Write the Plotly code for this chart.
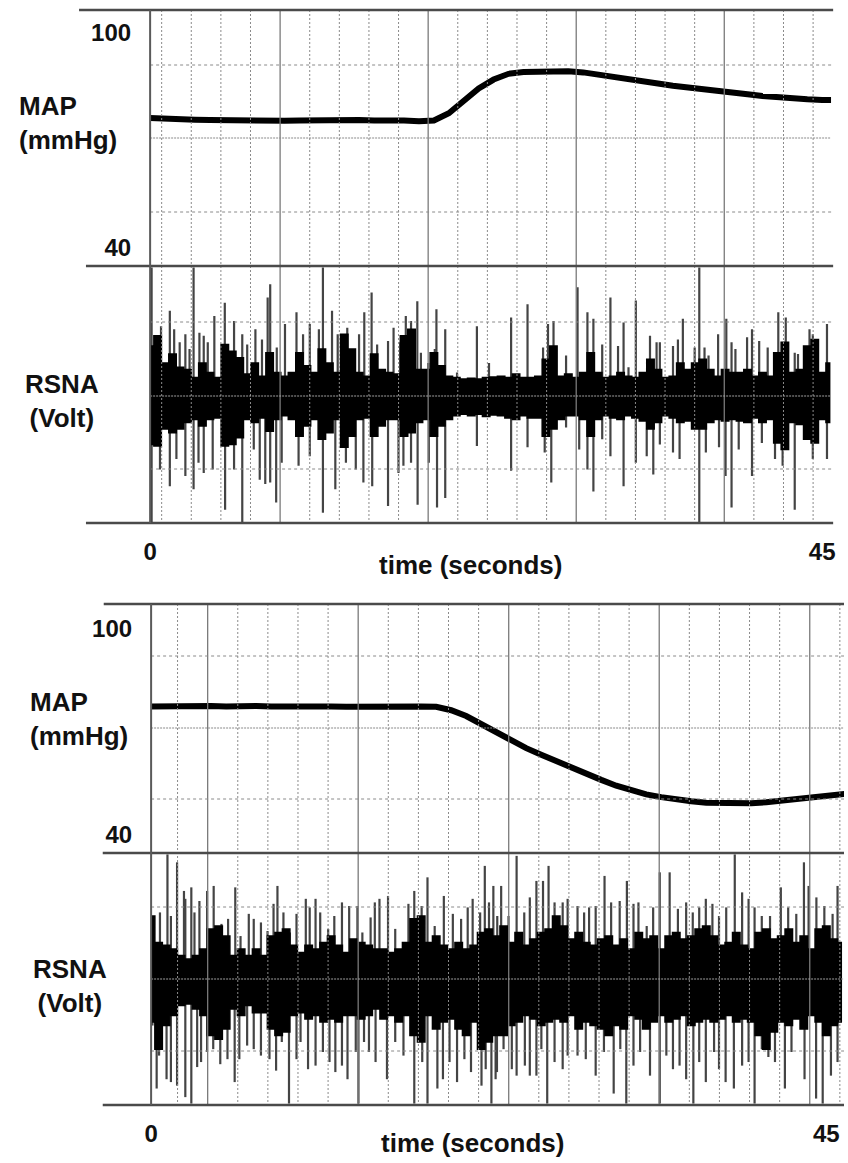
import plotly.graph_objects as go

W, H = 848, 1163
FONT = "Liberation Sans, Arial, Helvetica, sans-serif"

# ---------------- tick labels ----------------
time_ticks = [0, 45]
time_tick_text = ["0", "45"]
map_ticks = [40, 100]
map_tick_text = ["40", "100"]

# ---------------- Panel A (pressure rise) ----------------
map1_t = list(range(0, 46)) + [45.6]
map1_v = [76.3, 76.0, 75.9, 75.8, 75.7, 75.6, 75.6, 75.5, 75.6, 75.5,
          75.6, 75.7, 75.6, 75.8, 75.7, 75.6, 75.7, 75.6, 75.4, 75.6,
          77.6, 81.3, 84.5, 87.0, 88.6, 89.1, 89.3, 89.4, 89.3, 89.0,
          88.3, 87.9, 87.2, 86.6, 85.9, 85.3, 84.9, 84.4, 83.8, 83.3,
          82.9, 82.4, 82.0, 81.8, 81.5, 81.3, 81.3]

rsna1_core_t = [0.5 * i for i in range(92)]
rsna1_core_hi = [0.68, 0.82, 0.45, 0.57, 0.39, 0.36, 0.25, 0.45, 0.32, 0.25,
                 0.70, 0.61, 0.52, 0.30, 0.45, 0.27, 0.59, 0.32, 0.27, 0.32,
                 0.59, 0.41, 0.32, 0.64, 0.45, 0.32, 0.84, 0.64, 0.32, 0.27,
                 0.57, 0.36, 0.32, 0.30, 0.82, 0.91, 0.36, 0.36, 0.59, 0.41,
                 0.27, 0.25, 0.23, 0.24, 0.23, 0.25, 0.26,
                 0.27, 0.25, 0.30, 0.25, 0.25, 0.27, 0.50, 0.68, 0.27, 0.30,
                 0.25, 0.32, 0.59, 0.32, 0.25, 0.27, 0.32, 0.27, 0.25, 0.32,
                 0.50, 0.36, 0.25, 0.27, 0.45, 0.36, 0.45, 0.50, 0.36, 0.27,
                 0.36, 0.32, 0.32, 0.36, 0.27, 0.32, 0.27, 0.59, 0.73, 0.32,
                 0.36, 0.68, 0.77, 0.32, 0.45]
rsna1_core_lo = [-0.66, -0.68, -0.45, -0.50, -0.45, -0.36, -0.32, -0.41, -0.32, -0.30,
                 -0.68, -0.66, -0.57, -0.32, -0.36, -0.30, -0.48, -0.32, -0.27, -0.32,
                 -0.55, -0.41, -0.32, -0.59, -0.50, -0.32, -0.70, -0.55, -0.32, -0.30,
                 -0.55, -0.41, -0.32, -0.32, -0.55, -0.50, -0.36, -0.32, -0.55, -0.41,
                 -0.32, -0.27, -0.25, -0.27, -0.25, -0.28, -0.26,
                 -0.27, -0.30, -0.32, -0.27, -0.30, -0.30, -0.55, -0.45, -0.32, -0.27,
                 -0.27, -0.32, -0.55, -0.32, -0.27, -0.30, -0.32, -0.27, -0.30, -0.34,
                 -0.45, -0.36, -0.27, -0.30, -0.36, -0.34, -0.45, -0.45, -0.36, -0.32,
                 -0.34, -0.32, -0.34, -0.36, -0.30, -0.36, -0.32, -0.64, -0.73, -0.36,
                 -0.39, -0.59, -0.64, -0.32, -0.36]

rsna1_up_t = [0.10, 0.73, 1.32, 1.61, 1.98, 2.36, 2.64, 2.91, 3.30, 3.59, 3.86, 4.30,
              5.00, 5.62, 6.17, 6.50, 7.05, 7.49, 7.87, 8.04, 8.48, 9.03, 9.80, 10.24,
              10.69, 11.30, 11.57, 12.18, 12.56, 13.20, 13.99, 14.34, 14.83, 15.20, 15.93,
              16.30, 16.75, 17.12, 17.47, 17.89, 18.13, 18.62, 19.06, 19.17, 19.76, 20.55,
              21.88, 22.69,
              24.17, 25.27, 26.31, 26.64, 27.01, 27.85, 28.62, 29.28, 29.68, 30.27, 30.82,
              31.33, 31.70, 32.03, 32.52, 33.47, 33.91, 34.13, 35.01, 35.34, 35.67, 36.46,
              36.77, 37.12, 37.39, 38.03, 38.58, 38.93, 39.19, 39.97, 40.30, 40.78, 41.35,
              42.06, 42.56, 43.16, 43.38, 44.15, 44.37, 45.32]
rsna1_up_v = [1.75, 0.95, 1.16, 0.91, 0.73, 0.84, 0.64, 1.75, 0.86, 0.82, 0.73, 1.09,
              1.27, 1.02, 0.84, 0.70, 0.91, 0.77, 1.34, 1.52, 0.66, 0.98, 1.14, 0.84,
              0.98, 0.91, 1.75, 1.16, 0.84, 0.93, 0.84, 1.14, 1.41, 0.70, 0.75,
              0.93, 0.73, 1.09, 1.02, 1.29, 0.59, 0.45, 0.64, 1.18, 0.91, 0.32,
              0.95, 0.45,
              1.07, 1.25, 0.66, 0.98, 1.02, 0.55, 1.48, 1.14, 1.05, 0.70, 1.34,
              0.68, 1.00, 0.39, 1.30, 0.82, 0.73, 0.73, 0.68, 0.77, 1.05, 0.66,
              1.75, 0.66, 0.55, 0.84, 1.05, 0.73, 0.64, 0.80, 0.91, 0.75, 0.66,
              1.14, 1.07, 0.59, 0.57, 0.91, 0.84, 0.98]
rsna1_dn_t = [0.10, 0.66, 1.32, 1.76, 2.36, 2.91, 3.24, 3.59, 4.19, 5.02, 5.62, 6.17,
              6.94, 7.34, 7.71, 8.04, 8.44, 8.81, 9.94, 10.69, 11.57, 12.40, 13.11, 13.77,
              14.28, 14.87, 15.93, 16.63, 16.96, 17.47, 17.91, 18.66, 19.21, 19.76, 21.88,
              24.17, 25.27, 26.42, 26.86, 27.85, 28.73, 29.28, 29.68, 30.27, 30.82, 31.70,
              32.52, 33.25, 33.69, 34.13, 35.01, 35.45, 36.77, 37.21, 38.09, 38.53, 38.93,
              39.41, 40.30, 40.96, 41.84, 42.35, 43.16, 44.37, 45.32]
rsna1_dn_v = [-1.73, -1.00, -1.23, -0.86, -1.09, -1.27, -0.91, -1.05, -1.00, -1.55, -1.00, -1.73,
              -0.73, -1.14, -1.20, -1.18, -1.45, -0.91, -0.95, -0.82, -1.59, -1.27, -0.91, -1.00,
              -1.18, -1.23, -1.50, -1.05, -0.95, -0.91, -1.48, -0.91, -1.52, -1.39, -0.68,
              -1.02, -0.70, -0.77, -1.18, -0.43, -0.73, -1.00, -1.30, -0.59, -0.82, -1.23,
              -0.91, -0.82, -1.07, -0.66, -0.77, -0.86, -1.73, -0.77, -0.70, -1.09, -1.52,
              -0.73, -1.09, -0.64, -0.86, -0.95, -1.55, -0.86, -0.86]

# ---------------- Panel B (pressure fall) ----------------
map2_t = list(range(0, 47)) + [46.2]
map2_v = [77.3, 77.4, 77.3, 77.2, 77.4, 77.3, 77.5, 77.4, 77.3, 77.4,
          77.3, 77.2, 77.3, 77.2, 77.3, 77.2, 77.3, 77.4, 77.3, 77.2,
          76.2, 74.5, 72.2, 69.8, 67.3, 65.2, 63.3, 61.4, 59.6, 57.8,
          56.0, 54.3, 53.0, 51.8, 51.0, 50.3, 49.8, 49.4, 49.2, 49.1,
          49.2, 49.5, 50.0, 50.6, 51.0, 51.4, 51.8, 51.9]

rsna2_core_t = [0.5 * i for i in range(93)]
rsna2_core_hi = [0.88, 0.51, 0.47, 0.42, 0.33, 0.28, 0.33, 0.42, 0.70, 0.74,
                 0.60, 0.33, 0.42, 0.33, 0.42, 0.33, 0.60, 0.65, 0.70, 0.47,
                 0.37, 0.47, 0.42, 0.51, 0.60, 0.47, 0.37, 0.56, 0.51, 0.47,
                 0.42, 0.42, 0.37, 0.42, 0.51, 0.84, 0.88, 0.51, 0.60, 0.47,
                 0.42, 0.51, 0.42, 0.47, 0.65, 0.70, 0.60,
                 0.74, 0.51, 0.65, 0.47, 0.56, 0.65, 0.70, 0.88, 0.74, 0.56,
                 0.65, 0.51, 0.47, 0.56, 0.60, 0.47, 0.56, 0.42, 0.65, 0.56,
                 0.60, 0.42, 0.60, 0.65, 0.56, 0.60, 0.70, 0.74, 0.60, 0.47,
                 0.51, 0.65, 0.47, 0.42, 0.65, 0.70, 0.56, 0.60, 0.70, 0.51,
                 0.60, 0.42, 0.70, 0.74, 0.56, 0.51]
rsna2_core_lo = [-0.60, -0.98, -0.65, -0.51, -0.37, -0.35, -0.42, -0.51, -0.79, -0.84,
                 -0.70, -0.42, -0.51, -0.37, -0.47, -0.47, -0.70, -0.79, -0.74, -0.51,
                 -0.47, -0.56, -0.51, -0.60, -0.56, -0.60, -0.51, -0.51, -0.56, -0.51,
                 -0.42, -0.56, -0.51, -0.60, -0.51, -0.79, -0.88, -0.51, -0.70, -0.60,
                 -0.56, -0.70, -0.79, -0.60, -0.98, -0.88, -0.79,
                 -0.79, -0.65, -0.60, -0.51, -0.56, -0.65, -0.60, -0.56, -0.60, -0.51,
                 -0.70, -0.60, -0.65, -0.70, -0.79, -0.65, -0.70, -0.51, -0.56, -0.70,
                 -0.60, -0.51, -0.60, -0.56, -0.51, -0.65, -0.60, -0.56, -0.60, -0.56,
                 -0.51, -0.60, -0.56, -0.60, -0.79, -0.98, -0.74, -0.60, -0.65, -0.56,
                 -0.70, -0.51, -0.60, -0.79, -0.65, -0.60]

rsna2_up_t = [0.09, 0.59, 1.09, 1.32, 1.73, 2.19, 2.28, 2.68, 2.89, 3.22, 3.73, 4.17,
              4.69, 5.13, 5.61, 5.96, 6.51, 6.84, 7.32, 7.76, 8.16, 8.42, 8.82, 9.25,
              9.69, 10.31, 10.57, 10.96, 11.27, 11.80, 12.21, 12.72, 13.20, 13.75, 14.08,
              14.63, 14.91, 15.22, 15.79, 16.27, 17.15, 17.54, 18.03, 18.42, 18.90, 19.51,
              20.11, 20.66, 21.10, 21.43, 21.93, 22.24, 22.52, 22.81, 23.07,
              23.33, 23.82, 24.36, 24.87, 25.24, 25.68, 26.12, 26.49, 26.89, 27.43,
              27.76, 28.42, 28.86, 29.19, 29.63, 30.22, 30.66, 31.23, 31.71, 32.15, 32.48,
              33.03, 33.46, 33.90, 34.56, 35.11, 35.66, 36.10, 36.53, 36.97, 37.41, 37.85,
              38.33, 38.90, 39.39, 39.82, 40.22, 40.70, 41.25, 41.97, 42.46, 43.00, 43.51,
              43.82, 44.34, 44.87, 45.42, 45.75]
rsna2_up_v = [0.88, 0.93, 1.74, 0.88, 1.63, 1.23, 1.12, 1.28, 0.93, 1.09, 1.23, 1.30,
              0.77, 0.84, 1.28, 0.60, 0.91, 0.84, 0.79, 0.67, 1.05, 1.30, 0.93, 0.65,
              0.91, 1.12, 1.00, 1.12, 0.93, 0.70, 0.88, 1.07, 1.02, 1.02, 0.65,
              0.86, 1.07, 1.12, 1.16, 0.70, 1.05, 1.23, 1.02, 1.42, 0.74, 1.16,
              0.91, 0.84, 1.00, 1.12, 0.93, 1.58, 1.07, 1.30, 0.88,
              1.30, 0.88, 1.72, 0.93, 1.14, 1.37, 1.37, 1.58, 1.07, 1.07,
              1.12, 1.02, 0.93, 1.00, 1.02, 1.44, 1.07, 1.09, 1.37, 1.05, 1.07,
              0.74, 1.00, 1.49, 1.49, 0.98, 1.07, 0.93, 1.00, 1.12, 1.05, 0.88,
              1.00, 1.74, 1.21, 1.12, 1.00, 0.88, 0.88, 1.28, 1.00, 0.91, 1.63,
              1.30, 1.14, 1.02, 0.91, 1.30]
rsna2_dn_t = [0.09, 0.37, 0.53, 1.03, 1.32, 1.73, 2.28, 2.68, 3.07, 3.33, 3.73, 4.14,
              4.61, 5.09, 5.57, 5.88, 6.40, 6.84, 7.32, 7.89, 8.33, 8.71, 9.19, 9.69,
              9.96, 10.46, 10.96, 11.45, 11.89, 12.28, 12.72, 13.09, 13.64, 13.82, 14.19,
              14.52, 14.96, 15.72, 16.27, 16.82, 17.54, 18.07, 18.42, 19.08, 19.45, 19.89,
              20.39, 20.88, 21.32, 22.02, 22.30, 22.68, 22.96,
              23.05, 23.49, 24.04, 24.36, 24.91, 25.24, 25.68, 26.01, 26.40, 26.89,
              27.43, 27.76, 28.42, 28.97, 29.63, 30.18, 30.83, 31.27, 31.67, 32.15, 32.59,
              33.25, 33.90, 34.34, 34.78, 35.22, 35.66, 36.14, 36.53, 36.97, 37.52, 37.85,
              38.29, 38.84, 39.39, 39.82, 40.22, 40.70, 41.14, 41.58, 42.24, 42.68, 43.55,
              44.32, 44.76, 45.31, 45.75]
rsna2_dn_v = [-0.65, -1.53, -1.07, -1.40, -1.44, -1.49, -1.65, -1.74, -1.23, -1.16, -1.02, -0.98,
              -1.19, -1.12, -1.44, -1.12, -0.93, -0.98, -1.07, -1.12, -1.28, -0.88, -1.74, -1.12,
              -0.88, -1.26, -1.21, -1.02, -1.16, -1.30, -1.21, -1.40, -1.02, -1.74, -0.88,
              -1.02, -1.16, -1.40, -0.88, -1.07, -1.74, -1.16, -1.74, -1.53, -1.40, -1.16,
              -1.44, -1.12, -1.30, -1.49, -1.26, -1.74, -1.40,
              -1.30, -0.98, -1.26, -1.35, -1.21, -1.35, -1.35, -0.98, -1.74, -1.16,
              -1.26, -1.07, -1.07, -1.12, -1.35, -1.02, -1.60, -0.98, -1.74, -1.21, -1.02,
              -1.35, -1.74, -1.07, -1.26, -1.21, -1.40, -1.74, -1.16, -1.44, -1.02, -1.26,
              -1.44, -1.53, -1.21, -1.16, -1.74, -0.98, -1.09, -1.16, -1.53, -1.02, -1.40,
              -1.67, -1.74, -1.35, -1.16]

# ---------------- geometry (pixels) ----------------
P1 = dict(x0=145, x1=835, top=10, mid=266, bot=523, T=45.6,
          map_range=[35.0, 106.4], rsna_range=[-1.73, 1.77],
          map_grid=[65, 138, 212], rsna_grid=[322, 396, 469],
          vg0=156.7, vgs=30.0, vg_solid=4,
          line_l_top=73, line_l=80, line_r=837)
P2 = dict(x0=146, x1=848, top=604, mid=853, bot=1105, T=46.18,
          map_range=[34.8, 107.0], rsna_range=[-1.76, 1.76],
          map_grid=[656, 728, 799], rsna_grid=[907, 979, 1051],
          vg0=172.8, vgs=30.5, vg_solid=1,
          line_l_top=98, line_l=97, line_r=848)


def px(x):
    return x / W


def py(y):
    return 1 - y / H


fig = go.Figure()


def spikes(ts, vs):
    xs, ys = [], []
    for t, v in zip(ts, vs):
        xs += [t, t, None]
        ys += [0, v, None]
    return xs, ys


panels = [
    (P1, map1_t, map1_v, rsna1_core_t, rsna1_core_hi, rsna1_core_lo,
     rsna1_up_t, rsna1_up_v, rsna1_dn_t, rsna1_dn_v, ("x", "y"), ("x2", "y2")),
    (P2, map2_t, map2_v, rsna2_core_t, rsna2_core_hi, rsna2_core_lo,
     rsna2_up_t, rsna2_up_v, rsna2_dn_t, rsna2_dn_v, ("x3", "y3"), ("x4", "y4")),
]

for (P, mt, mv, ct, chi, clo, ut, uv, dt, dv, ax_map, ax_rs) in panels:
    fig.add_trace(go.Scatter(x=mt, y=mv, mode="lines",
                             line=dict(color="#000000", width=6),
                             xaxis=ax_map[0], yaxis=ax_map[1], showlegend=False,
                             hoverinfo="skip"))
    sx, sy = spikes(ut + dt, uv + dv)
    fig.add_trace(go.Scatter(x=sx, y=sy, mode="lines",
                             line=dict(color="#444444", width=2.2),
                             xaxis=ax_rs[0], yaxis=ax_rs[1], showlegend=False,
                             hoverinfo="skip"))
    fig.add_trace(go.Scatter(x=ct + ct[::-1], y=chi + clo[::-1], mode="lines",
                             fill="toself", fillcolor="#000000", line_shape="hvh",
                             line=dict(color="#000000", width=1.5),
                             xaxis=ax_rs[0], yaxis=ax_rs[1], showlegend=False,
                             hoverinfo="skip"))

axis_common = dict(showgrid=False, zeroline=False, showline=False, ticks="",
                   fixedrange=True)
tickfont = dict(family=FONT, size=24, color="#111111", weight="bold")

layout_axes = {}
for i, P in enumerate([P1, P2]):
    n_map = 2 * i + 1
    n_rs = 2 * i + 2
    xdom = [px(P["x0"]), px(P["x1"])]
    sfx_map = "" if n_map == 1 else str(n_map)
    sfx_rs = str(n_rs)
    layout_axes["xaxis" + sfx_map] = dict(axis_common, domain=xdom, range=[0, P["T"]],
                                          showticklabels=False,
                                          anchor="y" + sfx_map)
    layout_axes["yaxis" + sfx_map] = dict(axis_common,
                                          domain=[py(P["mid"]), py(P["top"])],
                                          range=P["map_range"],
                                          tickvals=map_ticks, ticktext=map_tick_text,
                                          tickfont=tickfont, ticklabelstandoff=18,
                                          anchor="x" + sfx_map)
    layout_axes["xaxis" + sfx_rs] = dict(axis_common, domain=xdom, range=[0, P["T"]],
                                         tickvals=time_ticks, ticktext=time_tick_text,
                                         tickfont=tickfont, ticklabelstandoff=12,
                                         anchor="y" + sfx_rs)
    layout_axes["yaxis" + sfx_rs] = dict(axis_common,
                                         domain=[py(P["bot"]), py(P["mid"])],
                                         range=P["rsna_range"], showticklabels=False,
                                         anchor="x" + sfx_rs)

shapes = []


def seg(x0, y0, x1, y1, color, width, dash="solid"):
    shapes.append(dict(type="line", xref="paper", yref="paper",
                       x0=px(x0), y0=py(y0), x1=px(x1), y1=py(y1),
                       line=dict(color=color, width=width, dash=dash),
                       layer="above"))


for P in [P1, P2]:
    # vertical grid
    k = 0
    while True:
        x = P["vg0"] + P["vgs"] * k
        if x > P["x1"] - 1:
            break
        if k % 5 == P["vg_solid"]:
            seg(x, P["top"], x, P["bot"], "#7a7a7a", 1.3)
        else:
            seg(x, P["top"], x, P["bot"], "#8a8a8a", 1, "2px,2px")
        k += 1
    # horizontal grid
    for j, y in enumerate(P["map_grid"]):
        if j == 1:
            seg(P["x0"], y, P["x1"], y, "#8a8a8a", 1.2, "2px,1px")
        else:
            seg(P["x0"], y, P["x1"], y, "#8a8a8a", 1, "3px,3px")
    for j, y in enumerate(P["rsna_grid"]):
        if j == 1:
            seg(P["x0"], y, P["x1"], y, "#a0a0a0", 1.2, "2px,1px")
        else:
            seg(P["x0"], y, P["x1"], y, "#8a8a8a", 1, "3px,3px")
    # frame
    seg(P["line_l_top"], P["top"], P["line_r"], P["top"], "#4a4a4a", 2.5)
    seg(P["line_l"], P["mid"], P["line_r"], P["mid"], "#4a4a4a", 2.5)
    seg(P["line_l"], P["bot"], P["line_r"], P["bot"], "#4a4a4a", 2.5)
    seg(P["x0"], P["top"], P["x0"], P["bot"], "#5a5a5a", 2)

labfont = dict(family=FONT, size=26, color="#111111", weight="bold")
annotations = [
    dict(x=px(10), y=py(123), text="MAP<br>(mmHg)", xanchor="left", align="left"),
    dict(x=px(56), y=py(401), text="RSNA<br>(Volt)", xanchor="center", align="center"),
    dict(x=px(470), y=py(565), text="time (seconds)", xanchor="center", align="center"),
    dict(x=px(21), y=py(719), text="MAP<br>(mmHg)", xanchor="left", align="left"),
    dict(x=px(64), y=py(986), text="RSNA<br>(Volt)", xanchor="center", align="center"),
    dict(x=px(472), y=py(1143), text="time (seconds)", xanchor="center", align="center"),
]
for a in annotations:
    a.update(xref="paper", yref="paper", yanchor="middle", showarrow=False, font=labfont)

fig.update_layout(width=W, height=H, margin=dict(l=0, r=0, t=0, b=0),
                  paper_bgcolor="white", plot_bgcolor="white",
                  showlegend=False, shapes=shapes, annotations=annotations,
                  **layout_axes)

fig.write_html("out.html", config={"displayModeBar": False, "staticPlot": True},
               post_script="document.body.style.margin='0';"
                           "document.body.style.padding='0';"
                           "document.body.style.overflow='hidden';")
